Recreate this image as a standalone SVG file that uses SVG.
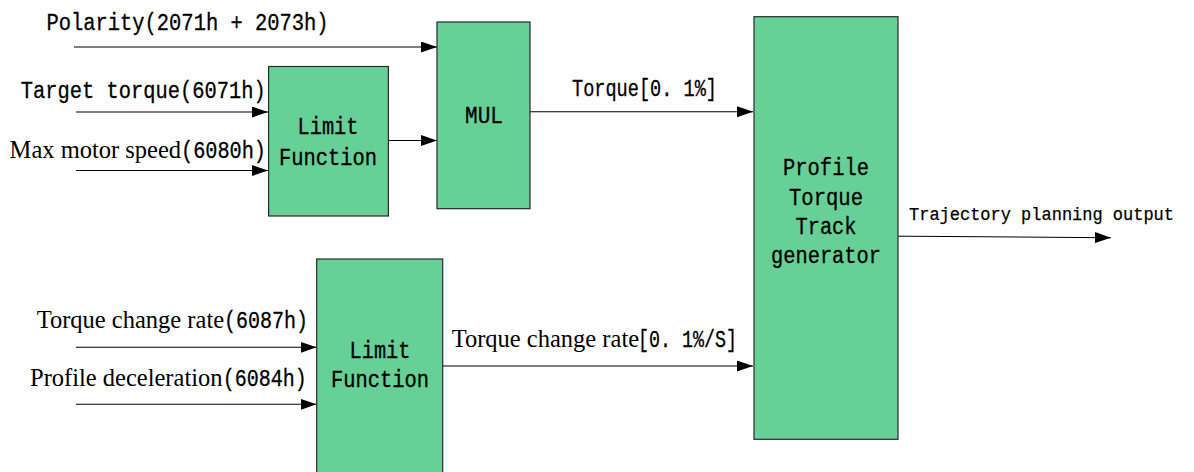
<svg xmlns="http://www.w3.org/2000/svg" width="1194" height="472" viewBox="0 0 1194 472">
<style>
.box{fill:#66D096;stroke:#2a2a2a;stroke-width:1.2}
.m{font-family:"Liberation Mono","DejaVu Sans Mono",monospace;font-size:23px;fill:#000;stroke:#000;stroke-width:0.3}
.t{font-size:17.5px;stroke-width:0.25}
.s{font-family:"Liberation Serif","Times New Roman",serif;font-size:24.5px;fill:#000}
.c{text-anchor:middle}
.ln{stroke:#000;stroke-width:1.1;fill:none;marker-end:url(#ah)}
</style>
<defs>
<marker id="ah" markerUnits="userSpaceOnUse" markerWidth="17" markerHeight="12" refX="16" refY="5.5" orient="auto">
<path d="M0,0 L16,5.5 L0,11 Z" fill="#000"/>
</marker>
</defs>
<rect width="1194" height="472" fill="#fff"/>
<g id="connectors">
<line class="ln" x1="74" y1="47" x2="437" y2="47"/>
<line class="ln" x1="76" y1="112" x2="268" y2="112"/>
<line class="ln" x1="76" y1="170.5" x2="268" y2="170.5"/>
<line class="ln" x1="388.5" y1="140.5" x2="437" y2="140.5"/>
<line class="ln" x1="530" y1="111.7" x2="753" y2="111.7"/>
<line class="ln" x1="76" y1="347.3" x2="316.5" y2="347.3"/>
<line class="ln" x1="76" y1="404.3" x2="316.5" y2="404.3"/>
<line class="ln" x1="442.5" y1="366" x2="753" y2="366"/>
<line class="ln" x1="875" y1="236" x2="1111" y2="237.7"/>
</g>
<g id="labels">
<text class="m" x="46.5" y="30" textLength="282" lengthAdjust="spacingAndGlyphs">Polarity(2071h + 2073h)</text>
<text class="m" x="20.7" y="97.5" textLength="245" lengthAdjust="spacingAndGlyphs">Target torque(6071h)</text>
<text y="158"><tspan class="s" x="9.6">Max motor speed</tspan><tspan class="m" x="181" textLength="85" lengthAdjust="spacingAndGlyphs">(6080h)</tspan></text>
<text class="m" x="572" y="96" textLength="145" lengthAdjust="spacingAndGlyphs">Torque[0. 1%]</text>
<text y="328"><tspan class="s" x="36.7">Torque change rate</tspan><tspan class="m" x="224" textLength="84" lengthAdjust="spacingAndGlyphs">(6087h)</tspan></text>
<text y="386"><tspan class="s" x="30">Profile deceleration</tspan><tspan class="m" x="222.7" textLength="84" lengthAdjust="spacingAndGlyphs">(6084h)</tspan></text>
<text y="347.3"><tspan class="s" x="451.7">Torque change rate</tspan><tspan class="m" x="638" textLength="99" lengthAdjust="spacingAndGlyphs">[0. 1%/S]</tspan></text>
<text class="m t" x="909" y="220" textLength="265" lengthAdjust="spacingAndGlyphs">Trajectory planning output</text>
</g>
<g id="limit1">
<rect class="box" x="268.6" y="66.5" width="119.8" height="149.5"/>
<text class="m c" x="328" y="133.6" textLength="61" lengthAdjust="spacingAndGlyphs">Limit</text>
<text class="m c" x="328" y="164.6" textLength="98" lengthAdjust="spacingAndGlyphs">Function</text>
</g>
<g id="mul">
<rect class="box" x="437" y="22" width="93" height="186.7"/>
<text class="m c" x="484" y="123" textLength="38" lengthAdjust="spacingAndGlyphs">MUL</text>
</g>
<g id="profile">
<rect class="box" x="754" y="16.7" width="144" height="422.6"/>
<text class="m c" x="826" y="175" textLength="86" lengthAdjust="spacingAndGlyphs">Profile</text>
<text class="m c" x="826" y="204.5" textLength="74" lengthAdjust="spacingAndGlyphs">Torque</text>
<text class="m c" x="826" y="234" textLength="61" lengthAdjust="spacingAndGlyphs">Track</text>
<text class="m c" x="826" y="263" textLength="110" lengthAdjust="spacingAndGlyphs">generator</text>
</g>
<g id="limit2">
<rect class="box" x="316.7" y="259" width="126" height="220"/>
<text class="m c" x="380" y="358" textLength="61" lengthAdjust="spacingAndGlyphs">Limit</text>
<text class="m c" x="380" y="387" textLength="98" lengthAdjust="spacingAndGlyphs">Function</text>
</g>
</svg>
